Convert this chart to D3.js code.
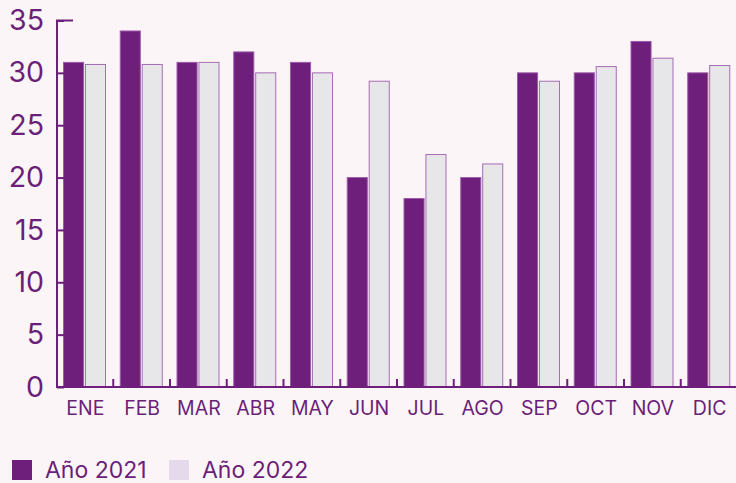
<!DOCTYPE html>
<html>
<head>
<meta charset="utf-8">
<script src="https://cdn.jsdelivr.net/npm/d3@7"></script>
<style>
  html, body { margin: 0; padding: 0; background: #fcf5f8; }
  svg text { font-family: Inter, "Noto Sans", sans-serif; fill: #6b1f78; }
</style>
</head>
<body>
<svg id="chart"></svg>
<script>
// data
var months = ["ENE", "FEB", "MAR", "ABR", "MAY", "JUN", "JUL", "AGO", "SEP", "OCT", "NOV", "DIC"]
var series = ["Año 2021", "Año 2022"]
var values2021 = [31, 34, 31, 32, 31, 20, 18, 20, 30, 30, 33, 30]
var values2022 = [30.8, 30.8, 31, 30, 30, 29.2, 22.2, 21.3, 29.2, 30.6, 31.4, 30.7]
var yTicks = [0, 5, 10, 15, 20, 25, 30, 35]

var width = 736, height = 483
var purple = "#6e1f7b"

var svg = d3.select("#chart")
  .attr("width", width)
  .attr("height", height)

var rows = months.map((m, i) => ({month: m, vals: [values2021[i], values2022[i]]}))

var x = d3.scaleBand()
  .domain(months)
  .range([57, 738])

var x1 = d3.scaleBand()
  .domain(series)
  .range([6, 49])
  .paddingInner(0.04)

var y = d3.scaleLinear()
  .domain([0, 35])
  .range([387, 20.5])

// bars
var groups = svg.append("g").selectAll("g")
  .data(rows)
  .enter().append("g")
  .attr("transform", d => "translate(" + x(d.month) + ",0)")

groups.selectAll("rect")
  .data(d => d.vals.map((v, j) => ({key: series[j], v: v})))
  .enter().append("rect")
  .attr("x", d => x1(d.key) + 0.5)
  .attr("y", d => y(d.v))
  .attr("width", x1.bandwidth() - 1)
  .attr("height", d => y(0) - y(d.v))
  .attr("fill", d => d.key == series[0] ? purple : "#e7e6e8")
  .attr("stroke", d => d.key == series[0] ? "#9c5aa9" : "#a66db3")
  .attr("stroke-width", 1)

// y axis
var yAxis = svg.append("g")
  .attr("transform", "translate(57,0)")
  .call(d3.axisLeft(y).tickValues(yTicks).tickSize(-7).tickSizeOuter(0).tickPadding(20))

yAxis.select(".domain").remove()
yAxis.selectAll(".tick line").attr("stroke", purple).attr("stroke-width", 2)
yAxis.selectAll(".tick text")
  .style("font-size", "28.5px")
  .attr("x", -13)

svg.append("line")
  .attr("x1", 57).attr("x2", 57)
  .attr("y1", y(35)).attr("y2", y(0) + 1)
  .attr("stroke", purple).attr("stroke-width", 2)

svg.append("line")
  .attr("x1", 56).attr("x2", 73)
  .attr("y1", y(35)).attr("y2", y(35))
  .attr("stroke", purple).attr("stroke-width", 2)

// x axis
var xAxis = svg.append("g")
  .attr("transform", "translate(0," + y(0) + ")")
  .call(d3.axisBottom(x).tickSize(0).tickPadding(14))

xAxis.select(".domain").remove()
xAxis.selectAll(".tick text").style("font-size", "19.5px")

svg.append("line")
  .attr("x1", 56).attr("x2", width)
  .attr("y1", y(0)).attr("y2", y(0))
  .attr("stroke", purple).attr("stroke-width", 2)

// small separators between months
svg.append("g").selectAll("line")
  .data(months.slice(1))
  .enter().append("line")
  .attr("x1", d => x(d) - 0.5)
  .attr("x2", d => x(d) - 0.5)
  .attr("y1", y(0))
  .attr("y2", y(0) - 8)
  .attr("stroke", purple)
  .attr("stroke-width", 2)

// legend
var legendX = [12, 169]
var legend = svg.append("g").selectAll("g")
  .data(series)
  .enter().append("g")
  .attr("transform", (d, i) => "translate(" + legendX[i] + ",460)")

legend.append("rect")
  .attr("width", 20)
  .attr("height", 20)
  .attr("fill", (d, i) => i == 0 ? purple : "#e5d9ec")

legend.append("text")
  .attr("x", 33)
  .attr("y", 18)
  .style("font-size", "23px")
  .text(d => d)
</script>
</body>
</html>
